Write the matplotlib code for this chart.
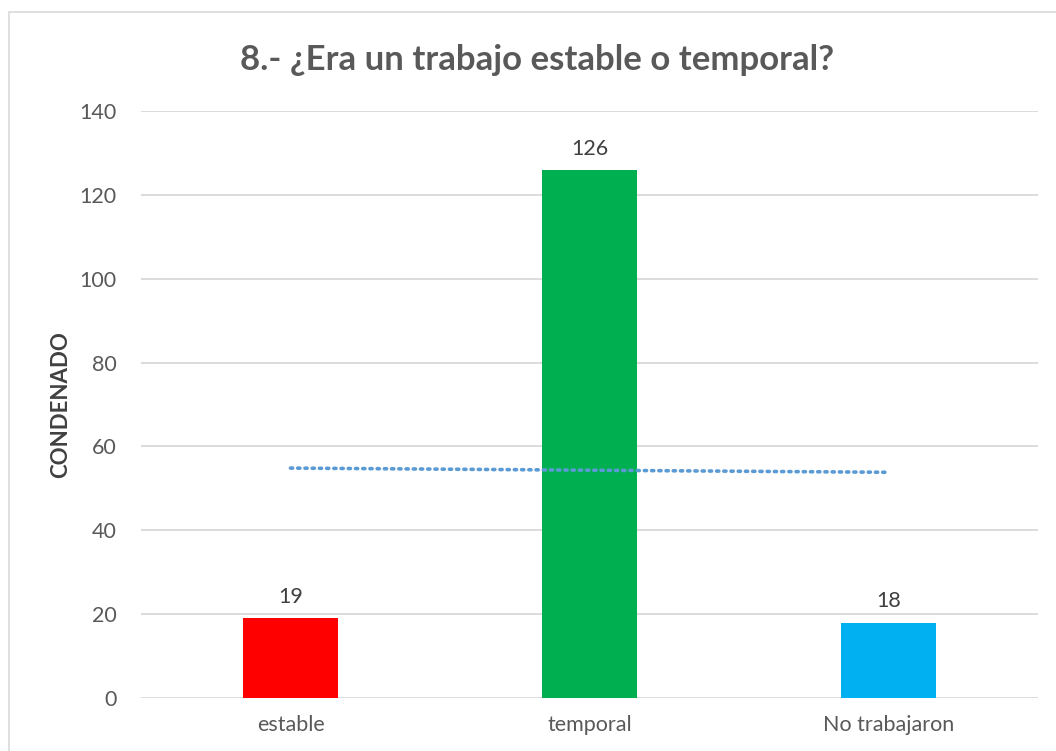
import matplotlib
matplotlib.use("Agg")
import matplotlib.pyplot as plt
import numpy as np
from matplotlib.patches import Rectangle

categories = ["estable", "temporal", "No trabajaron"]
values = [19, 126, 18]
colors = ["#FF0000", "#00B050", "#00B0F0"]
yticks = [0, 20, 40, 60, 80, 100, 120, 140]
title = "8.- ¿Era un trabajo estable o temporal?"
ylabel = "CONDENADO"

plt.rcParams['font.family'] = ['Lato', 'DejaVu Sans']
W, H = 1056, 751
fig = plt.figure(figsize=(W/100, H/100), dpi=100)
ax = fig.add_axes([141/W, 1-698/H, (1038-141)/W, (698-111)/H])

x = np.arange(len(categories))
ax.bar(x, values, width=0.32, color=colors, zorder=3)
for xi, v in zip(x, values):
    ax.annotate(str(v), (xi, v), xytext=(0, 8), textcoords="offset points",
                ha="center", va="bottom", fontsize=15.5, color="#404040")

# linear trendline
coef = np.polyfit(x, values, 1)
ax.plot(x, np.polyval(coef, x), linestyle=(0, (0.6, 1.4)), color="#5B9BD5",
        linewidth=2.6, dash_capstyle="round", zorder=4)

ax.set_xlim(-0.5, 2.5)
ax.set_ylim(0, 140)
ax.set_yticks(yticks)
ax.set_xticks(x)
ax.set_xticklabels(categories)
ax.tick_params(axis="both", length=0, labelsize=15.5, labelcolor="#595959")
ax.tick_params(axis="y", pad=17.5)
ax.tick_params(axis="x", pad=12)
ax.grid(axis="y", color="#D9D9D9", linewidth=1.3, zorder=0)
for s in ax.spines.values():
    s.set_visible(False)
ax.set_ylabel(ylabel, fontsize=16, fontweight="bold", color="#404040")
ax.yaxis.set_label_coords((71 - 141) / (1038 - 141), 0.5)

fig.text(537/W, 1-60/H, title, ha="center", va="center", fontsize=25,
         fontweight="bold", color="#595959")

fig.patches.append(Rectangle((9/W, -0.05), 1.1, 1-12/H+0.05, transform=fig.transFigure,
                             fill=False, edgecolor="#D9D9D9", linewidth=1.2))

fig.savefig("out.png", dpi=100)
